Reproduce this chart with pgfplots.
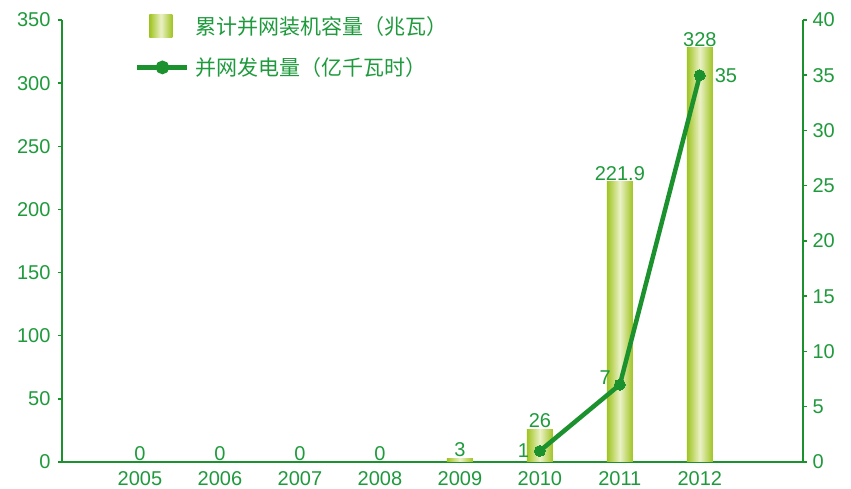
\documentclass[border=0pt]{standalone}
\usepackage{fontspec}
\setmainfont{Liberation Sans}
\newfontfamily\cjk{Noto Sans CJK SC}
\usepackage{pgfplots}
\pgfplotsset{compat=1.18}
\definecolor{txtgreen}{HTML}{1E9A3C}
\definecolor{linegreen}{HTML}{1C922F}
\definecolor{barg}{HTML}{9FC421}
\definecolor{barl}{HTML}{EBF1C6}

\pgfplotsset{
  base/.style={
    scale only axis, width=741pt, height=442pt,
    xmin=-0.975, xmax=8.29, clip=false,
    axis line style={draw=linegreen, line width=2.5pt, -},
    tick style={linegreen, line width=1.5pt},
    major tick length=4pt, tick align=outside,
    major x tick style={draw=none},
    ticklabel style={font=\fontsize{20}{22}\selectfont, text=txtgreen},
    /pgf/number format/assume math mode=true,
  },
  onebar/.style={ybar, bar width=26pt, bar shift=0pt, draw=none,
    left color=barg, right color=barg, middle color=barl,
    nodes near coords, nodes near coords style={text=txtgreen, font=\fontsize{20}{22}\selectfont, inner sep=1pt}},
}

\begin{document}
\begin{tikzpicture}
\useasboundingbox (-62pt,-27pt) rectangle (789pt,462pt);
\begin{axis}[base,
  ymin=0, ymax=350, ytick={0,50,...,350},
  axis x line*=bottom, axis y line*=left,
  xtick={0,...,7}, xticklabels={2005,2006,2007,2008,2009,2010,2011,2012},
  yticklabel style={xshift=-4pt},
  xticklabel style={yshift=-2pt},
]
% cumulative grid-connected capacity (MW), one plot per bar so each gets its own shading
\addplot[onebar] coordinates {(4,3)};
\addplot[onebar] coordinates {(5,26)};
\addplot[onebar] coordinates {(6,221.9)};
\addplot[onebar] coordinates {(7,328)};
\addplot[only marks, mark=none, nodes near coords,
  nodes near coords style={text=txtgreen, font=\fontsize{20}{22}\selectfont, inner sep=1pt}]
  coordinates {(0,0) (1,0) (2,0) (3,0)};
\end{axis}
\begin{axis}[base,
  ymin=0, ymax=40, ytick={0,5,...,40},
  axis y line*=right, axis x line=none,
  yticklabel style={xshift=2pt},
  legend style={draw=none, fill=none, at={(0.0985,1.0136)}, anchor=north west,
    font=\cjk\fontsize{21}{23}\selectfont, text=txtgreen, row sep=18pt, inner sep=0pt,
    column sep=4pt},
  legend cell align=left,
]
\addlegendimage{legend image code/.code={
  \path[draw=none] (0pt,0pt) -- (50pt,0pt);
  \shade[draw=none, left color=barg, right color=barg, middle color=barl] (12pt,-11.5pt) rectangle (35pt,11.5pt);}}
\addlegendentry{累计并网装机容量（兆瓦）}
% grid-connected generation (100 GWh)
\addplot[linegreen, line width=4.5pt, mark=*, mark size=5.5pt, mark options={fill=linegreen, line width=0pt},
  nodes near coords, point meta=explicit symbolic,
  visualization depends on={value \thisrow{dx} \as \dx},
  visualization depends on={value \thisrow{dy} \as \dy},
  visualization depends on={value \thisrow{anc} \as \anc},
  every node near coord/.append style={anchor=\anc, xshift=\dx pt, yshift=\dy pt,
    text=txtgreen, font=\fontsize{20}{22}\selectfont, inner sep=0pt},
  legend image code/.code={
    \draw[linegreen, line width=4.5pt] (0pt,0pt) -- (50pt,0pt);
    \fill[linegreen] (25pt,0pt) circle (4.5pt);}]
  table[x=x, y=y, meta=lab] {
x y lab anc dx dy
5 1 1 east -11 0
6 7 7 east -9 7
7 35 35 west 15 0
};
\addlegendentry{并网发电量（亿千瓦时）}
\end{axis}
\end{tikzpicture}
\end{document}
